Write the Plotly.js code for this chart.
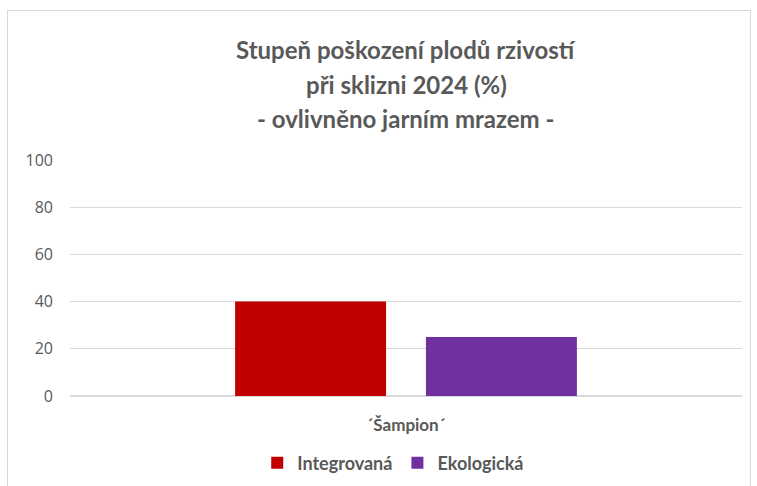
<!DOCTYPE html>
<html><head><meta charset="utf-8">
<script src="https://cdn.plot.ly/plotly-3.0.1.min.js"></script>
<style>body{margin:0;background:#fff}#wrap{position:relative;width:757px;height:486px}#frame{position:absolute;left:7px;top:10px;width:744px;height:490px;border:1px solid #d9d9d9;pointer-events:none;box-sizing:border-box}</style>
</head><body><div id="wrap"><div id="chart" style="width:757px;height:486px"></div><div id="frame"></div></div>
<script>
const categories = ['´Šampion´'];
const seriesNames = ['Integrovaná', 'Ekologická'];
const integrovana = [40];
const ekologicka = [25];
const titleLines = ['Stupeň poškození plodů rzivostí', 'při sklizni 2024 (%)', '- ovlivněno jarním mrazem -'];
const yTicks = [0, 20, 40, 60, 80, 100];

const gray = '#595959';
const font = 'Lato, "Open Sans", sans-serif';
const data = [
  {type: 'bar', name: seriesNames[0], x: categories, y: integrovana, marker: {color: '#c00000'}, hoverinfo: 'y'},
  {type: 'bar', name: seriesNames[1], x: categories, y: ekologicka, marker: {color: '#7030a0'}, hoverinfo: 'y'}
];
const ys = [1.467, 1.318, 1.176];
const annotations = titleLines.map((t, i) => ({
  text: t, xref: 'paper', yref: 'paper', x: 0.5, y: ys[i],
  xanchor: 'center', yanchor: 'middle', showarrow: false,
  font: {family: font, size: 24, color: gray, weight: 'bold'}
}));
const layout = {
  width: 757, height: 486,
  margin: {l: 70, r: 15, t: 160, b: 90},
  paper_bgcolor: '#fff', plot_bgcolor: '#fff',
  barmode: 'group', bargap: 0.432, bargroupgap: 0.209,
  showlegend: true,
  legend: {orientation: 'h', x: 0.481, xanchor: 'center', xref: 'paper', yref: 'container', y: 0.047, yanchor: 'middle',
    font: {family: font, size: 18, color: gray, weight: 'bold'}, itemwidth: 30, traceorder: 'normal'},
  xaxis: {type: 'category', showgrid: false, zeroline: false, showline: false, ticks: '', automargin: false,
    tickfont: {family: font, size: 17, color: gray, weight: 'bold'}, ticklabelstandoff: 17},
  yaxis: {range: [0, 100], tickvals: yTicks, showgrid: true, gridcolor: '#d9d9d9', gridwidth: 1, automargin: false,
    zeroline: true, zerolinecolor: '#d9d9d9', zerolinewidth: 1.5, showline: false, ticks: '',
    tickfont: {family: '"Open Sans", sans-serif', size: 16, color: gray}, ticklabelstandoff: 16},
  annotations: annotations
};
Plotly.newPlot('chart', data, layout, {displayModeBar: false, staticPlot: true});
</script></body></html>
